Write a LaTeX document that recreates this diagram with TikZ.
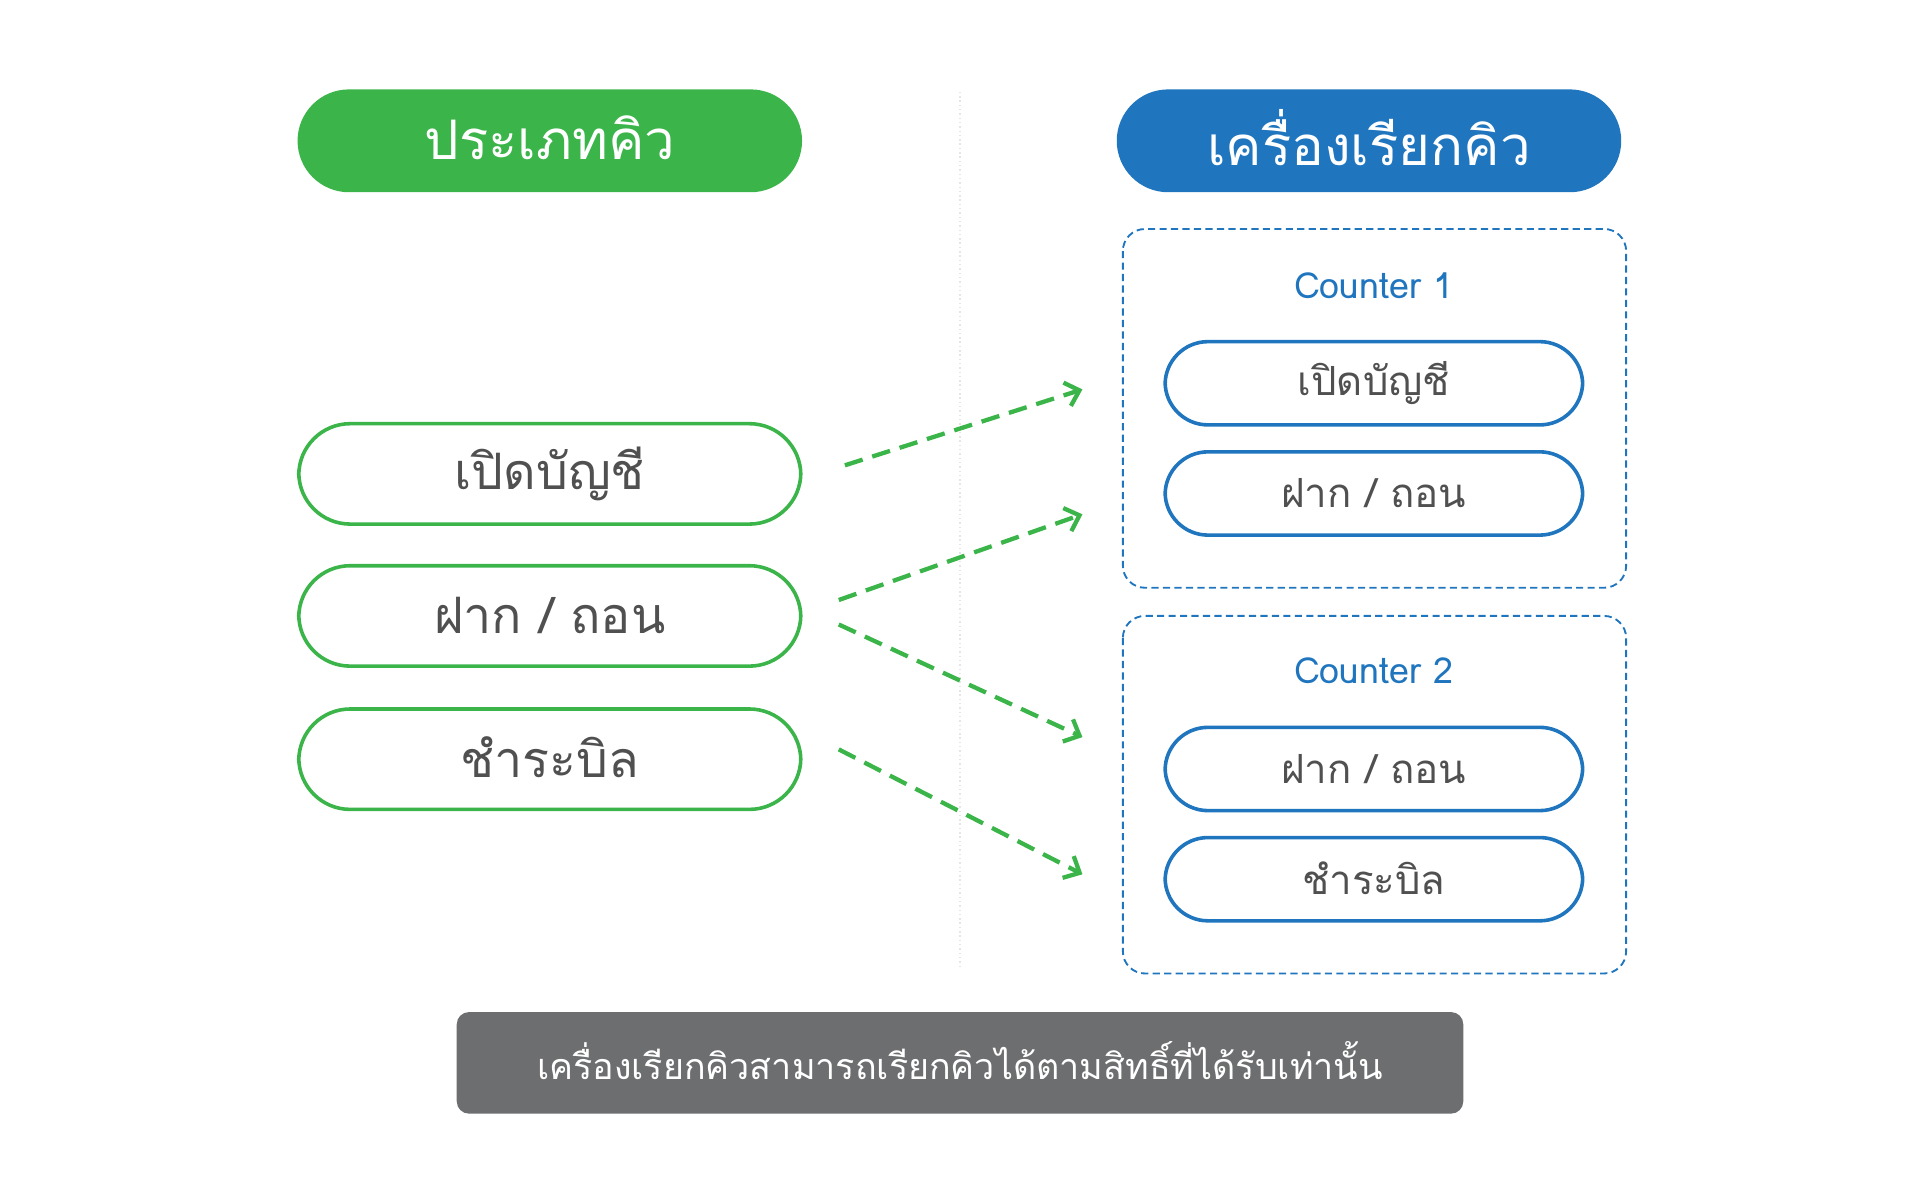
\documentclass[tikz,border=0pt]{standalone}
\usepackage{fontspec}
\setmainfont{Liberation Sans}
\newfontfamily\thaifont[Script=Thai]{Loma}
\usetikzlibrary{arrows.meta}
\definecolor{cgreen}{HTML}{3BB54A}
\definecolor{cblue}{HTML}{1F75BE}
\definecolor{ctext}{HTML}{505050}
\definecolor{cgray}{HTML}{6D6E70}
\begin{document}
\begin{tikzpicture}[x=0.03cm,y=-0.03cm,
  hdr/.style={rounded corners=42*0.03cm,minimum width=412*0.03cm,minimum height=84*0.03cm,text=white,font=\thaifont\fontsize{38}{40}\selectfont},
  lbox/.style={draw=cgreen,line width=2.5pt,fill=white,rounded corners=42*0.03cm,minimum width=410*0.03cm,minimum height=82*0.03cm,text=ctext,font=\thaifont\fontsize{35}{38}\selectfont},
  rbox/.style={draw=cblue,line width=2.5pt,fill=white,rounded corners=35*0.03cm,minimum width=341*0.03cm,minimum height=68*0.03cm,text=ctext,font=\thaifont\fontsize{28}{30}\selectfont},
  grp/.style={draw=cblue,dash pattern=on 5pt off 3pt,line width=1.3pt,rounded corners=18*0.03cm},
  up/.style={text depth=0pt,yshift=5pt},
  arr/.style={draw=cgreen,line width=3pt,dash pattern=on 13pt off 7pt,-{Straight Barb[length=9pt,width=17pt,line width=3pt]}}]
\useasboundingbox (0,0) rectangle (1568,980);
\draw[gray!20,dotted,line width=1pt] (784,75) -- (784,790);
\node[hdr,fill=cgreen] (h1) at (449,115) {\raisebox{4pt}{ประเภทคิว}};
\node[hdr,fill=cblue] (h2) at (1118,115) {\raisebox{5pt}{เครื่องเรียกคิว}};
\node[lbox] (l1) at (449,387) {\raisebox{3pt}{เปิดบัญชี}};
\node[lbox] (l2) at (449,503) {ฝาก / ถอน};
\node[lbox] (l3) at (449,620) {\raisebox{3pt}{ชำระบิล}};
\draw[grp] (917,187) rectangle (1328,480);
\draw[grp] (917,503) rectangle (1328,795);
\node[text=cblue,font=\thaifont\fontsize{25}{28}\selectfont] (c1) at (1122,233) {Counter 1};
\node[text=cblue,font=\thaifont\fontsize{25}{28}\selectfont] (c2) at (1122,548) {Counter 2};
\node[rbox] (r1) at (1122,313) {\raisebox{2pt}{เปิดบัญชี}};
\node[rbox] (r2) at (1122,403) {ฝาก / ถอน};
\node[rbox] (r3) at (1122,628) {ฝาก / ถอน};
\node[rbox] (r4) at (1122,718) {\raisebox{2pt}{ชำระบิล}};
\coordinate (a1s) at (690,380); \coordinate (a1e) at (884,318);
\coordinate (a2s) at (685,490); \coordinate (a2e) at (884,420);
\coordinate (a3s) at (685,510); \coordinate (a3e) at (884,602);
\coordinate (a4s) at (685,612); \coordinate (a4e) at (884,714);
\draw[arr] (a1s) -- (a1e);
\draw[arr] (a2s) -- (a2e);
\draw[arr] (a3s) -- (a3e);
\draw[arr] (a4s) -- (a4e);
\node[fill=cgray,rounded corners=10*0.03cm,minimum width=822*0.03cm,minimum height=83*0.03cm,text=white,font=\thaifont\fontsize{25}{28}\selectfont] (note) at (784,868) {\raisebox{3pt}{เครื่องเรียกคิวสามารถเรียกคิวได้ตามสิทธิ์ที่ได้รับเท่านั้น}};
\end{tikzpicture}
\end{document}
